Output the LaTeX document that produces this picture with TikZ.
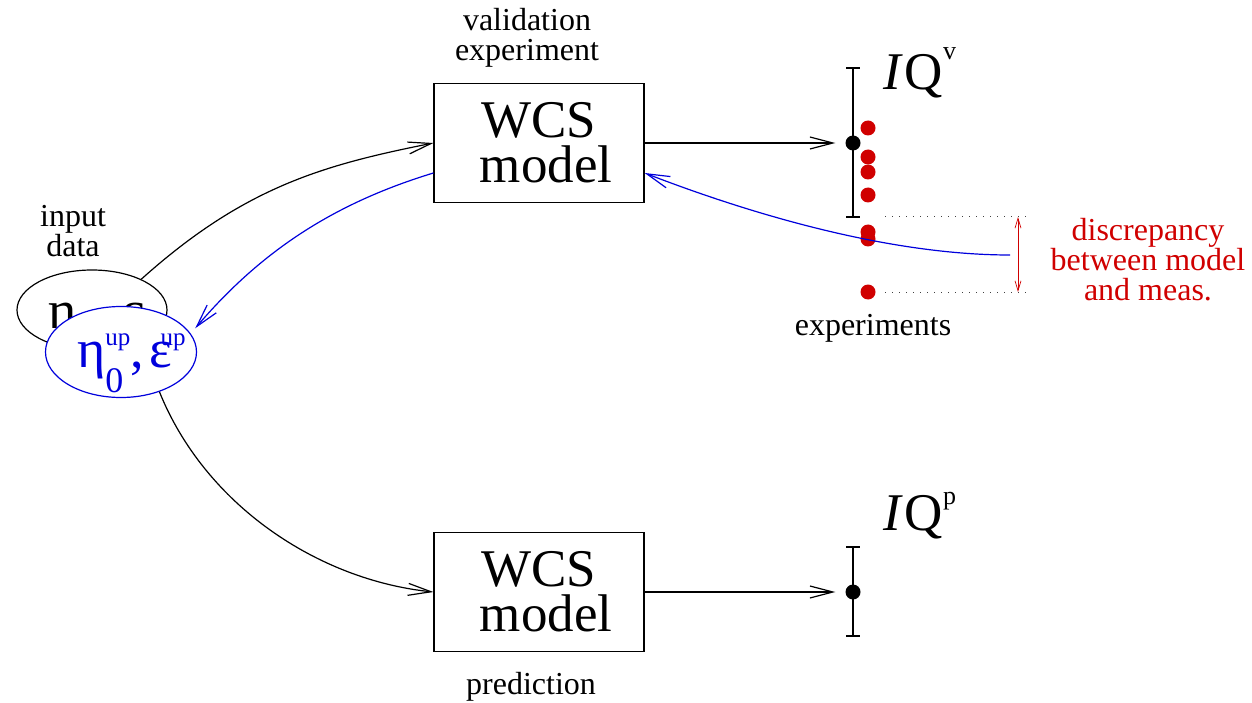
\documentclass[tikz,border=0pt]{standalone}
\usepackage{fontspec}
\setmainfont{Liberation Serif}
\usetikzlibrary{arrows.meta,shapes.geometric}
\definecolor{myred}{RGB}{208,0,0}
\definecolor{myblue}{RGB}{0,0,220}
\begin{document}
\begin{tikzpicture}[x=1pt,y=-1pt,
  lbl/.style={font=\fontsize{32}{30}\selectfont, inner sep=0pt, align=center},
  model/.style={draw, line width=1.2pt, minimum width=210pt, minimum height=119pt, inner sep=0pt, align=center, font=\fontsize{53}{45}\selectfont},
  arr/.style={line width=1.2pt, -{Straight Barb[length=23pt,width=12pt]}},
  barr/.style={arr, draw=myblue},
  dotm/.style={circle, fill=black, inner sep=0pt, minimum size=15pt},
  rdot/.style={myred},
  ebar/.style={line width=1.2pt},
  dotline/.style={line width=1pt, black!75, dash pattern=on 1pt off 6pt},
  iq/.style={anchor=base west, inner sep=0pt, font=\fontsize{53}{53}\selectfont},
  greek/.style={anchor=base west, inner sep=0pt, font=\fontsize{54}{54}\selectfont}]
\useasboundingbox (0,0) rectangle (1252,703);

% labels
\node[lbl, anchor=north] (valtxt) at (527,8) {validation\\experiment};
\node[lbl, anchor=north] (intxt) at (73,205) {input\\data};
\node[lbl, anchor=base] (exptxt) at (873,335) {experiments};
\node[lbl, anchor=base] (predtxt) at (531,694) {prediction};
\node[lbl, anchor=north, text=myred] (disctxt) at (1148,218) {discrepancy\\between model\\and meas.};

% boxes
\node[model] (box1) at (539,143) {WCS\\\hspace*{14pt}model};
\node[model] (box2) at (539,592) {WCS\\\hspace*{14pt}model};

% input ellipses
\node[ellipse, draw, line width=1.2pt, minimum width=150pt, minimum height=80pt, inner sep=0pt] (inA) at (92,310) {};
\node[greek] (ta) at (48,328) {η\textsubscript{0}, ε};
\node[ellipse, draw=myblue, fill=white, line width=1.2pt, minimum width=151pt, minimum height=91pt, inner sep=0pt] (inB) at (121,352) {};
\node[greek, text=myblue] (tb) at (77,367) {η\rlap{\raisebox{-25pt}{\fontsize{36}{36}\selectfont 0}}\raisebox{22pt}{\fontsize{25}{25}\selectfont up},\kern6ptε\kern-12pt\raisebox{22pt}{\fontsize{25}{25}\selectfont up}};

% IQ labels
\node[iq] (iqv) at (883,90) {\itshape I\kern4pt\upshape Q\raisebox{30pt}{\fontsize{26}{26}\selectfont v}};
\node[iq] (iqp) at (883,530) {\itshape I\kern4pt\upshape Q\raisebox{26pt}{\fontsize{26}{26}\selectfont p}};

% error bars
\draw[ebar] (853,68) -- (853,217) (846,68) -- (860,68) (846,217) -- (860,217);
\draw[ebar] (853,547) -- (853,636) (846,547) -- (860,547) (846,636) -- (860,636);
\node[dotm] (dv) at (853,143) {};
\node[dotm] (dp) at (853,592) {};

% experiments
\foreach \yy in {128,157,172,195,232,239,292} \fill[rdot] (868,\yy) circle (7.5pt);
\draw[dotline] (885,217) -- (1030,217);
\draw[dotline] (885,292) -- (1030,292);
\coordinate (dtop) at (1018,217);
\coordinate (dbot) at (1018,292);
\draw[myred, line width=0.7pt, {Straight Barb[length=10pt,width=6pt]}-{Straight Barb[length=10pt,width=6pt]}] (dtop) -- (dbot);

% connectors
\draw[arr, shorten >=10pt] (box1) -- (dv);
\draw[arr, shorten >=10pt] (box2) -- (dp);
\draw[arr] (inA.32) .. controls (244,187) and (323,165) .. (box1.west);
\draw[barr] ([yshift=-30pt]box1.west) .. controls (335,203) and (262,250) .. ([xshift=9pt]inB.20);
\draw[arr] (inB.-46) .. controls (205,505) and (318,580) .. (box2.west);
\coordinate (bstart) at (1010,255);
\draw[barr] (bstart) .. controls (880,255) and (735,208) .. ([yshift=-30pt]box1.east);
\end{tikzpicture}
\end{document}
